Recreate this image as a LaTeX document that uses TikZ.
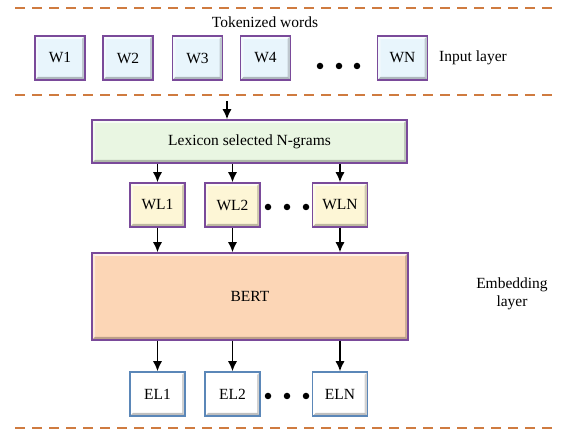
\documentclass[tikz,border=0pt]{standalone}
\usepackage{fontspec}
\setmainfont{Liberation Serif}
\usetikzlibrary{arrows.meta}
\definecolor{boxpurple}{HTML}{7A4A9A}
\definecolor{boxblue}{HTML}{5B87B8}
\definecolor{wfill}{HTML}{E8F5FC}
\definecolor{lexfill}{HTML}{E9F6E2}
\definecolor{wlfill}{HTML}{FDF6D6}
\definecolor{bertfill}{HTML}{FCD6B6}
\definecolor{sepline}{HTML}{CF7B40}
\begin{document}
\begin{tikzpicture}[x=1pt,y=-1pt,>={Latex[length=10pt,width=9pt]},
    font=\fontsize{15.5}{18}\selectfont,
    bevel/.style={path picture={
      \fill[white,opacity=0.7] (path picture bounding box.north west) -- (path picture bounding box.north east)
        -- ([xshift=-3pt,yshift=-3pt]path picture bounding box.north east) -- ([xshift=3pt,yshift=-3pt]path picture bounding box.north west) -- cycle;
      \fill[white,opacity=0.45] (path picture bounding box.north west) -- (path picture bounding box.south west)
        -- ([xshift=3pt,yshift=3pt]path picture bounding box.south west) -- ([xshift=3pt,yshift=-3pt]path picture bounding box.north west) -- cycle;
      \fill[black,opacity=0.18] (path picture bounding box.north east) -- (path picture bounding box.south east)
        -- ([xshift=-3pt,yshift=3pt]path picture bounding box.south east) -- ([xshift=-3pt,yshift=-3pt]path picture bounding box.north east) -- cycle;
      \fill[black,opacity=0.25] (path picture bounding box.south west) -- (path picture bounding box.south east)
        -- ([xshift=-3pt,yshift=3pt]path picture bounding box.south east) -- ([xshift=3pt,yshift=3pt]path picture bounding box.south west) -- cycle;
    }},
    wbox/.style={draw=boxpurple,line width=1.5pt,fill=wfill,bevel,minimum width=50pt,minimum height=44pt,inner sep=0pt},
    wlbox/.style={wbox,fill=wlfill,minimum width=55pt},
    elbox/.style={wbox,draw=boxblue,fill=white,minimum width=55pt},
    sep/.style={sepline,line width=1.4pt,dash pattern=on 10pt off 7pt},
    dot/.style={circle,fill=black,inner sep=0pt,minimum size=6.5pt}]
    \useasboundingbox (0,0) rectangle (571,430);
    % Layer separators
    \draw[sep] (15,8) -- (557,8);
    \draw[sep] (15,95) -- (557,95);
    \draw[sep] (15,428) -- (557,428);
    % Input layer
    \node (tok) at (265,22) {Tokenized words};
    \node[wbox] (w1) at (60,58) {W1};
    \node[wbox] (w2) at (128,58) {W2};
    \node[wbox] (w3) at (197.5,58) {W3};
    \node[wbox] (w4) at (265.5,58) {W4};
    \node[dot] (wd1) at (320,66) {};
    \node[dot] (wd2) at (339,66) {};
    \node[dot] (wd3) at (357,66) {};
    \node[wbox] (wn) at (402.5,58) {WN};
    \node (inp) at (473,58) {Input layer};
    % Embedding layer
    \coordinate (entry) at (227,101);
    \node[wbox,fill=lexfill,minimum width=315pt,minimum height=43pt] (lex) at (249.5,141.5) {Lexicon selected N-grams};
    \node[wlbox] (wl1) at (157.5,205) {WL1};
    \node[wlbox] (wl2) at (232.5,205) {WL2};
    \node[wlbox] (wln) at (340,205) {WLN};
    \node[dot] (ld1) at (268,207) {};
    \node[dot] (ld2) at (287,207) {};
    \node[dot] (ld3) at (306,207) {};
    \node[wbox,fill=bertfill,minimum width=316pt,minimum height=87pt] (bert) at (250,296.5) {BERT};
    \node[elbox] (el1) at (157.5,394) {EL1};
    \node[elbox] (el2) at (232.5,394) {EL2};
    \node[elbox] (eln) at (340,394) {ELN};
    \node[dot] (ed1) at (268,396) {};
    \node[dot] (ed2) at (287,396) {};
    \node[dot] (ed3) at (306,396) {};
    \node[align=center] (emb) at (512,294) {Embedding\\layer};
    % Arrows
    \draw[->,line width=1.5pt] (entry) -- (entry |- lex.north);
    \foreach \i in {1,2,n}{
      \draw[->,line width=1.5pt] (lex.south -| wl\i) -- (wl\i);
      \draw[->,line width=1.5pt] (wl\i) -- (bert.north -| wl\i);
      \draw[->,line width=1.5pt] (bert.south -| el\i) -- (el\i);
    }
\end{tikzpicture}
\end{document}
